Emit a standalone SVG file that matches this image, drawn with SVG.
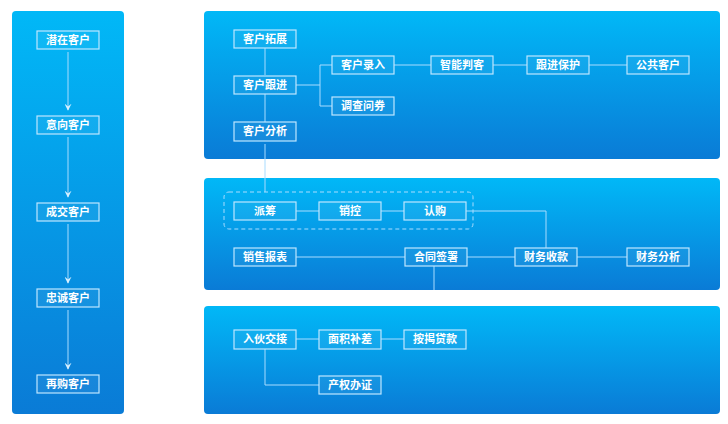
<svg xmlns="http://www.w3.org/2000/svg" width="728" height="424" viewBox="0 0 728 424">
<defs>
<linearGradient id="g" x1="0" y1="0" x2="0" y2="1"><stop offset="0" stop-color="#01b8f7"/><stop offset="1" stop-color="#0a7bd6"/></linearGradient>
<marker id="a" viewBox="0 0 10 10" refX="9" refY="5" markerWidth="7" markerHeight="7" orient="auto"><path d="M0,0 L10,5 L0,10 L4,5 Z" fill="#d8f0ff"/></marker>
</defs>
<style>
.p{fill:url(#g)}
.n rect{fill:rgba(255,255,255,0.06);stroke:#bfe6ff;stroke-width:1.2}
.n text{fill:#fff;font-family:"Noto Sans CJK SC",sans-serif;font-size:11px;font-weight:bold;text-anchor:middle}
.c path{fill:none;stroke:#a9dcff;stroke-width:1}
</style>
<rect width="728" height="424" fill="#fff"/>
<rect class="p" x="12" y="11" width="112" height="403" rx="4"/>
<rect class="p" x="204" y="11" width="516" height="148" rx="4"/>
<rect class="p" x="204" y="178" width="516" height="112" rx="4"/>
<rect class="p" x="204" y="306" width="516" height="108" rx="4"/>
<rect x="224" y="192" width="249" height="37" rx="5" fill="none" stroke="#a9dcff" stroke-dasharray="4,3"/>
<g class="c">
<path d="M68,52 V110" marker-end="url(#a)"/><path d="M68,137 V197" marker-end="url(#a)"/><path d="M68,224 V283" marker-end="url(#a)"/><path d="M68,310 V369" marker-end="url(#a)"/>
<path d="M265,48 V75 M265,94 V122 M265,144 V192"/>
<path d="M296,85 H320 M332,65 H320 V106 H332 M394,65 H431 M493,65 H527 M589,65 H627"/>
<path d="M296,211 H319 M381,211 H404 M466,211 H546 V248"/>
<path d="M296,257 H405 M467,257 H515 M577,257 H627 M434,266 V290"/>
<path d="M296,339 H319 M381,339 H404 M265,349 V385 H319"/>
</g>
<g class="n" id="n1"><rect x="37" y="31" width="62" height="18"/><text x="68" y="44">潜在客户</text></g>
<g class="n" id="n2"><rect x="37" y="116" width="62" height="18"/><text x="68" y="129">意向客户</text></g>
<g class="n" id="n3"><rect x="37" y="203" width="62" height="18"/><text x="68" y="216">成交客户</text></g>
<g class="n" id="n4"><rect x="37" y="289" width="62" height="18"/><text x="68" y="302">忠诚客户</text></g>
<g class="n" id="n5"><rect x="37" y="375" width="62" height="18"/><text x="68" y="388">再购客户</text></g>
<g class="n" id="t1"><rect x="234" y="30" width="62" height="18"/><text x="265" y="43">客户拓展</text></g>
<g class="n" id="t2"><rect x="234" y="76" width="62" height="18"/><text x="265" y="89">客户跟进</text></g>
<g class="n" id="t3"><rect x="234" y="122" width="62" height="19"/><text x="265" y="135">客户分析</text></g>
<g class="n" id="t4"><rect x="332" y="56" width="62" height="18"/><text x="363" y="69">客户录入</text></g>
<g class="n" id="t5"><rect x="332" y="97" width="62" height="18"/><text x="363" y="110">调查问券</text></g>
<g class="n" id="t6"><rect x="431" y="56" width="62" height="18"/><text x="462" y="69">智能判客</text></g>
<g class="n" id="t7"><rect x="527" y="56" width="62" height="18"/><text x="558" y="69">跟进保护</text></g>
<g class="n" id="t8"><rect x="627" y="56" width="62" height="18"/><text x="658" y="69">公共客户</text></g>
<g class="n" id="m1"><rect x="234" y="202" width="62" height="18"/><text x="265" y="215">派筹</text></g>
<g class="n" id="m2"><rect x="319" y="202" width="62" height="18"/><text x="350" y="215">销控</text></g>
<g class="n" id="m3"><rect x="404" y="202" width="62" height="18"/><text x="435" y="215">认购</text></g>
<g class="n" id="m4"><rect x="234" y="248" width="62" height="18"/><text x="265" y="261">销售报表</text></g>
<g class="n" id="m5"><rect x="405" y="248" width="62" height="18"/><text x="436" y="261">合同签署</text></g>
<g class="n" id="m6"><rect x="515" y="248" width="62" height="18"/><text x="546" y="261">财务收款</text></g>
<g class="n" id="m7"><rect x="627" y="248" width="62" height="18"/><text x="658" y="261">财务分析</text></g>
<g class="n" id="b1"><rect x="234" y="330" width="62" height="19"/><text x="265" y="343">入伙交接</text></g>
<g class="n" id="b2"><rect x="319" y="330" width="62" height="19"/><text x="350" y="343">面积补差</text></g>
<g class="n" id="b3"><rect x="404" y="330" width="62" height="19"/><text x="435" y="343">按揭贷款</text></g>
<g class="n" id="b4"><rect x="319" y="376" width="62" height="18"/><text x="350" y="389">产权办证</text></g>
</svg>
